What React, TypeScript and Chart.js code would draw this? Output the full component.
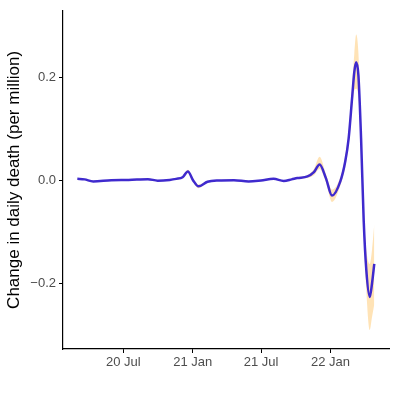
import React, { useEffect, useRef } from "react";
import { Chart, registerables } from "chart.js";

Chart.register(...registerables);

// Dates of the estimated points
const dates = [
  "2020-03-01", "2020-03-20", "2020-04-12", "2020-05-30", "2020-07-15",
  "2020-09-04", "2020-09-30", "2020-11-01", "2020-11-18", "2020-12-05",
  "2020-12-19", "2021-01-02", "2021-01-16", "2021-02-09", "2021-03-10",
  "2021-04-20", "2021-05-29", "2021-07-01", "2021-08-03", "2021-08-30",
  "2021-09-20", "2021-10-05", "2021-11-01", "2021-11-18", "2021-12-03",
  "2021-12-20", "2022-01-05", "2022-01-27", "2022-02-09", "2022-02-18",
  "2022-02-27", "2022-03-05", "2022-03-10", "2022-03-16", "2022-03-23",
  "2022-03-30", "2022-04-06", "2022-04-15", "2022-04-21", "2022-04-27",
];

// Change in daily death (per million)
const estimate = [
  0.003, 0.002, -0.002, 0.0005, 0.001,
  0.0025, -0.0005, 0.001, 0.003, 0.006,
  0.0173, 0.0, -0.0115, -0.0025, 0.0,
  0.0005, -0.002, 0.0, 0.003, -0.001,
  0.002, 0.0045, 0.0077, 0.016, 0.031,
  0.004, -0.0295, -0.002, 0.0365, 0.081,
  0.158, 0.21, 0.229, 0.203, 0.081,
  -0.079, -0.175, -0.226, -0.2, -0.162,
];

const lower = [
  0.002, 0.001, -0.003, -0.0005, 0.0,
  0.0015, -0.0015, 0.0, 0.002, 0.004,
  0.014, -0.003, -0.015, -0.0035, -0.001,
  -0.0005, -0.003, -0.001, 0.002, -0.002,
  0.001, 0.003, 0.005, 0.01, 0.022,
  -0.004, -0.042, -0.01, 0.026, 0.067,
  0.135, 0.175, 0.178, 0.16, 0.06,
  -0.1, -0.215, -0.29, -0.265, -0.24,
];

const upper = [
  0.004, 0.003, -0.001, 0.0015, 0.002,
  0.0035, 0.0005, 0.002, 0.004, 0.008,
  0.0205, 0.003, -0.008, -0.0015, 0.001,
  0.0015, -0.001, 0.001, 0.004, 0.0,
  0.003, 0.006, 0.0105, 0.022, 0.046,
  0.012, -0.018, 0.006, 0.047, 0.095,
  0.181, 0.245, 0.283, 0.246, 0.102,
  -0.058, -0.135, -0.162, -0.135, -0.085,
];

const xTickDates = ["2020-07-01", "2021-01-01", "2021-07-01", "2022-01-01"];
const xTickLabels = ["20 Jul", "21 Jan", "21 Jul", "22 Jan"];
const yTicks = [-0.2, 0.0, 0.2];

const EPOCH = Date.UTC(2020, 0, 1);
const toDay = (s: string) => {
  const [y, m, d] = s.split("-").map(Number);
  return (Date.UTC(y, m - 1, d) - EPOCH) / 86400000;
};

export default function App() {
  const ref = useRef<HTMLCanvasElement | null>(null);

  useEffect(() => {
    document.body.style.margin = "0";
    const canvas = ref.current;
    if (!canvas) return;
    const xs = dates.map(toDay);
    const tickDays = xTickDates.map(toDay);
    const font = "'Liberation Sans', Arial, sans-serif";

    const chart = new Chart(canvas, {
      type: "line",
      data: {
        datasets: [
          {
            label: "upper",
            data: xs.map((x, i) => ({ x, y: upper[i] })),
            borderWidth: 0,
            pointRadius: 0,
            backgroundColor: "rgba(255,200,110,0.5)",
            fill: "+1",
            cubicInterpolationMode: "monotone",
            order: 2,
          },
          {
            label: "lower",
            data: xs.map((x, i) => ({ x, y: lower[i] })),
            borderWidth: 0,
            pointRadius: 0,
            backgroundColor: "rgba(255,200,110,0.5)",
            fill: false,
            cubicInterpolationMode: "monotone",
            order: 2,
          },
          {
            label: "estimate",
            data: xs.map((x, i) => ({ x, y: estimate[i] })),
            borderColor: "#3f2ace",
            borderWidth: 2.5,
            pointRadius: 0,
            fill: false,
            cubicInterpolationMode: "monotone",
            order: 1,
          },
        ],
      },
      options: {
        animation: false,
        responsive: false,
        maintainAspectRatio: false,
        layout: { padding: { left: 0, right: 8, top: 7, bottom: 0 } },
        plugins: {
          legend: { display: false },
          tooltip: { enabled: false },
        },
        scales: {
          x: {
            type: "linear",
            min: 22,
            max: 886,
            afterBuildTicks: (axis: any) => {
              axis.ticks = tickDays.map((v) => ({ value: v }));
            },
            afterFit: (axis: any) => {
              axis.height = 48;
            },
            ticks: {
              autoSkip: false,
              maxRotation: 0,
              padding: 2,
              color: "#4d4d4d",
              font: { family: font, size: 13 },
              callback: (v: any) => {
                const i = tickDays.indexOf(Number(v));
                return i >= 0 ? xTickLabels[i] : "";
              },
            },
            grid: {
              drawOnChartArea: false,
              drawTicks: true,
              tickLength: 4,
              color: "#000",
              lineWidth: 1,
            },
            border: { display: true, color: "#000", width: 1.2 },
          },
          y: {
            type: "linear",
            min: -0.327,
            max: 0.329,
            afterBuildTicks: (axis: any) => {
              axis.ticks = yTicks.map((v) => ({ value: v }));
            },
            afterFit: (axis: any) => {
              axis.width = 63;
            },
            title: {
              display: true,
              text: "Change in daily death (per million)",
              color: "#000",
              font: { family: font, size: 17 },
              padding: { top: 4, bottom: 0 },
            },
            ticks: {
              padding: 3,
              color: "#4d4d4d",
              font: { family: font, size: 13 },
              callback: (v: any) => {
                const n = Number(v);
                if (Math.abs(n) < 1e-9) return "0.0";
                return (n < 0 ? "\u22120." : "0.") + String(Math.round(Math.abs(n) * 10));
              },
            },
            grid: {
              drawOnChartArea: false,
              drawTicks: true,
              tickLength: 4,
              color: "#000",
              lineWidth: 1,
            },
            border: { display: true, color: "#000", width: 1.2 },
          },
        },
      },
    } as any);

    return () => chart.destroy();
  }, []);

  return (
    <div style={{ width: 397, height: 397, background: "#fff" }}>
      <canvas ref={ref} width={397} height={397} style={{ display: "block" }} />
    </div>
  );
}
